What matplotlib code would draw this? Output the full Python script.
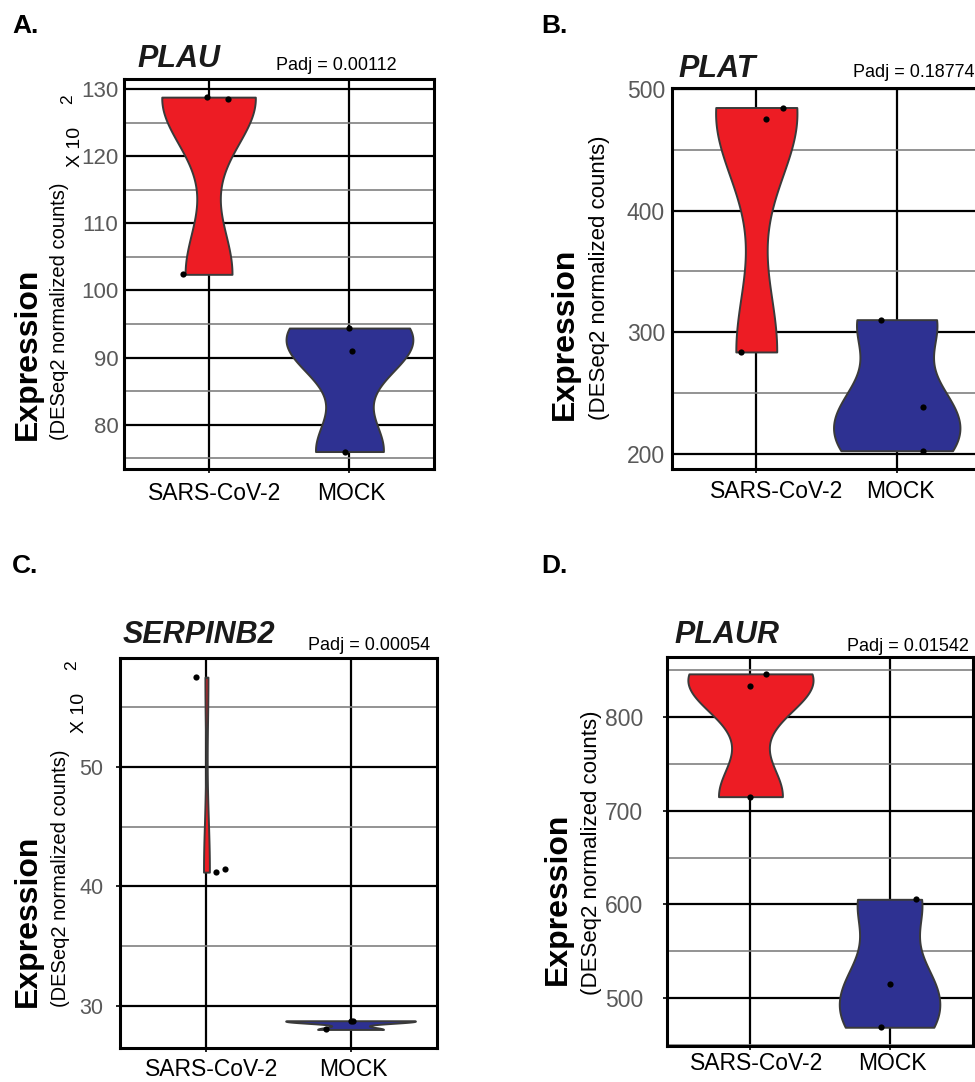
import numpy as np
import matplotlib
matplotlib.use("Agg")
import matplotlib.pyplot as plt
from matplotlib import cbook
from matplotlib.ticker import MultipleLocator
from matplotlib.transforms import ScaledTranslation

plt.rcParams['font.family'] = ['Liberation Sans', 'DejaVu Sans']

W, H = 975, 1082

# Data (display units)
groups = ["SARS-CoV-2", "MOCK"]

plau_sars = [128.8, 128.5, 102.4]
plau_mock = [94.4, 91.0, 76.0]
plau_jit_sars = [-0.01, 0.135, -0.18]
plau_jit_mock = [0.0, 0.015, -0.03]

plat_sars = [484.5, 475.4, 284.0]
plat_mock = [310.5, 238.8, 203.0]
plat_jit_sars = [0.19, 0.07, -0.11]
plat_jit_mock = [-0.11, 0.19, 0.19]

serpinb2_sars = [57.5, 41.2, 41.45]
serpinb2_mock = [28.05, 28.72, 28.78]
serpinb2_jit_sars = [-0.07, 0.065, 0.13]
serpinb2_jit_mock = [-0.17, 0.0, 0.02]

plaur_sars = [846.0, 833.0, 715.0]
plaur_mock = [605.5, 515.5, 469.0]
plaur_jit_sars = [0.11, 0.0, 0.0]
plaur_jit_mock = [0.19, 0.0, -0.065]

genes = ["PLAU", "PLAT", "SERPINB2", "PLAUR"]
padj = ["Padj = 0.00112", "Padj = 0.18774", "Padj = 0.00054", "Padj = 0.01542"]
letters = ["A.", "B.", "C.", "D."]

RED = "#ED1C24"
BLUE = "#2E3192"


def nrd0(x):
    # R's default bandwidth (bw.nrd0)
    x = np.asarray(x, float)
    hi = np.std(x, ddof=1)
    q75, q25 = np.percentile(x, [75, 25])
    lo = min(hi, (q75 - q25) / 1.34)
    return 0.9 * lo * len(x) ** -0.2


def kde(x, coords):
    x = np.asarray(x, float)
    bw = nrd0(x)
    z = (coords[:, None] - x[None, :]) / bw
    return np.exp(-0.5 * z ** 2).sum(1) / (len(x) * bw * np.sqrt(2 * np.pi))


def px_axes(fig, l, t, r, b):
    return fig.add_axes([l / W, 1 - b / H, (r - l) / W, (b - t) / H])


def draw_panel(ax, sars, mock, jit_s, jit_m, ylim, major, minor, tfs, tpad, tlen, xoff, xpad):
    stats = cbook.violin_stats([sars, mock], kde, points=300)
    maxes = [s['vals'].max() for s in stats]
    # ggplot scale="area": widths relative to the largest density in the panel
    widths = [0.9 * m / max(maxes) for m in maxes]
    parts = ax.violin(stats, positions=[0, 1], widths=widths,
                      showmeans=False, showextrema=False, showmedians=False)
    for body, col in zip(parts['bodies'], [RED, BLUE]):
        body.set_facecolor(col)
        body.set_edgecolor("#3a3a3a")
        body.set_linewidth(1.4)
        body.set_alpha(1)
        body.set_zorder(2)

    ax.scatter(np.array(jit_s), sars, s=20, color="black", zorder=3, lw=0)
    ax.scatter(1 + np.array(jit_m), mock, s=20, color="black", zorder=3, lw=0)

    ax.set_xlim(-0.6, 1.6)
    ax.set_ylim(*ylim)
    ax.set_xticks([0, 1])
    ax.set_xticklabels(groups, fontsize=16.5, color="black")
    ax.yaxis.set_major_locator(MultipleLocator(major))
    ax.yaxis.set_minor_locator(MultipleLocator(minor))
    ax.tick_params(axis='y', which='major', labelsize=tfs, labelcolor="#595959",
                   length=tlen, width=1.2, pad=tpad)
    ax.tick_params(axis='y', which='minor', length=0)
    ax.tick_params(axis='x', length=3, width=1.2, pad=xpad)
    ax.grid(which='major', axis='both', color='black', lw=1.6)
    ax.grid(which='minor', axis='y', color='#808080', lw=1.2)
    ax.set_axisbelow(True)
    for sp in ax.spines.values():
        sp.set_linewidth(2.2)
    for lab, dx in zip(ax.get_xticklabels(), xoff):
        lab.set_transform(lab.get_transform() + ScaledTranslation(dx / 100, 0, ax.figure.dpi_scale_trans))


def ftext(fig, x, y, s, **kw):
    fig.text(x / W, 1 - y / H, s, **kw)


def ylabel(fig, x1, y1, x2, y2, fs2, sci=None):
    ftext(fig, x1, y1, "Expression", rotation=90, rotation_mode='anchor',
          ha='left', va='baseline', fontsize=23, fontweight='bold')
    ftext(fig, x2, y2, "(DESeq2 normalized counts)", rotation=90, rotation_mode='anchor',
          ha='left', va='baseline', fontsize=fs2)
    if sci is not None:
        xa, ya, xb, yb = sci
        ftext(fig, xa, ya, "X 10", rotation=90, rotation_mode='anchor',
              ha='left', va='baseline', fontsize=14)
        ftext(fig, xb, yb, "2", rotation=90, rotation_mode='anchor',
              ha='left', va='baseline', fontsize=12.5)


fig = plt.figure(figsize=(W / 100, H / 100), dpi=100)

# A. PLAU
axA = px_axes(fig, 124, 79, 434, 469)
draw_panel(axA, plau_sars, plau_mock, plau_jit_sars, plau_jit_mock,
           (73.4, 131.5), 10, 5, 16, 4, 0, (6, 2), 6)
# B. PLAT
axB = px_axes(fig, 672, 88, 981, 469)
draw_panel(axB, plat_sars, plat_mock, plat_jit_sars, plat_jit_mock,
           (188, 500.5), 100, 50, 16.5, 5, 0, (20, 4), 5)
# C. SERPINB2
axC = px_axes(fig, 120, 658, 437, 1048)
draw_panel(axC, serpinb2_sars, serpinb2_mock, serpinb2_jit_sars, serpinb2_jit_mock,
           (26.5, 59.1), 10, 5, 15.5, 9, 3, (5, 3), 4)
# D. PLAUR
axD = px_axes(fig, 667, 657, 973, 1046)
draw_panel(axD, plaur_sars, plaur_mock, plaur_jit_sars, plaur_jit_mock,
           (449, 864), 100, 50, 16.5, 14, 3, (6, 3), 1)

# titles, p-values, panel letters
title_pos = [(137, 67), (678, 77), (123, 643), (674, 643)]
padj_pos = [(397, 70, 'right'), (853, 77, 'left'), (430, 650, 'right'), (969, 651, 'right')]
letter_pos = [(12, 33), (541, 33), (12, 573), (541, 573)]
for g, p, L, tp, pp, lp in zip(genes, padj, letters, title_pos, padj_pos, letter_pos):
    ftext(fig, tp[0], tp[1], g, fontsize=22, fontweight='bold', fontstyle='italic',
          ha='left', va='baseline', color='#1a1a1a')
    ftext(fig, pp[0], pp[1], p, fontsize=13, ha=pp[2], va='baseline')
    ftext(fig, lp[0], lp[1], L, fontsize=19, fontweight='bold', ha='left', va='baseline')

# y axis labels
ylabel(fig, 36, 440, 65, 440, 14.5, sci=(80, 167, 72, 104))
ylabel(fig, 573, 420, 605, 420, 16)
ylabel(fig, 36, 1007, 66, 1007, 14.5, sci=(84, 733, 76, 670))
ylabel(fig, 566, 985, 597, 995, 16)

fig.savefig("out.png", dpi=100)
